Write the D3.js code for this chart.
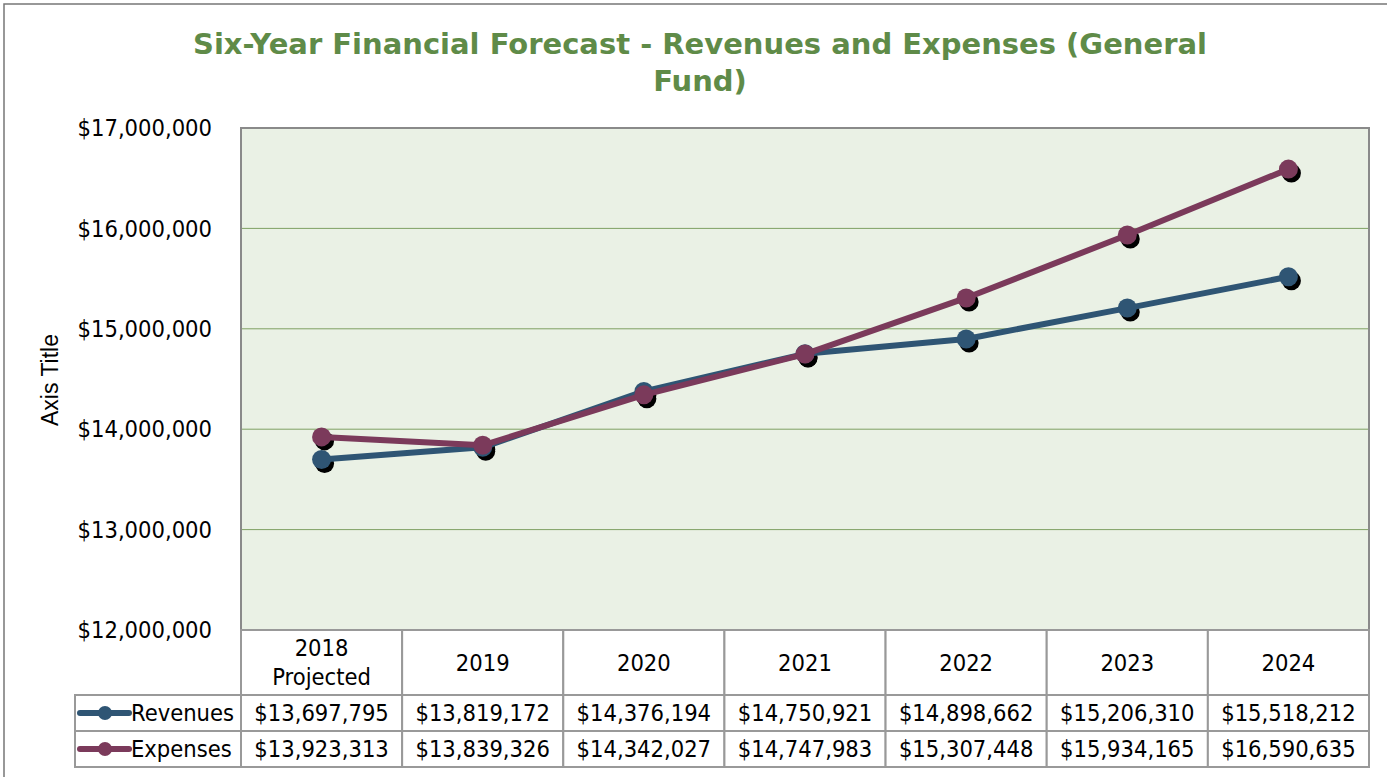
<!DOCTYPE html>
<html>
<head>
<meta charset="utf-8">
<script src="https://cdn.jsdelivr.net/npm/d3@7"></script>
<style>
  body { margin: 0; background: #fff; }
  text { font-family: "DejaVu Sans Condensed", "DejaVu Sans", sans-serif; fill: #000; }
</style>
</head>
<body>
<div id="chart"></div>
<script>
// chart data
var years = ['2018 Projected', '2019', '2020', '2021', '2022', '2023', '2024'];
var revenues = [13697795, 13819172, 14376194, 14750921, 14898662, 15206310, 15518212];
var expenses = [13923313, 13839326, 14342027, 14747983, 15307448, 15934165, 16590635];
var seriesNames = ['Revenues', 'Expenses'];
var seriesColors = ['#2f5574', '#7b3a5b'];
var yTicks = [12000000, 13000000, 14000000, 15000000, 16000000, 17000000];

var width = 1387, height = 777;
var plot = { left: 241, right: 1369, top: 128, bottom: 630 };
var rowH = [65, 36, 36];
var fs = '23.5px';

var svg = d3.select('#chart').append('svg')
  .attr('width', width)
  .attr('height', height);

// outer frame
svg.append('rect')
  .attr('x', 4).attr('y', 4)
  .attr('width', width + 10).attr('height', height + 10)
  .attr('fill', '#fff').attr('stroke', '#777').attr('stroke-width', 1.5);

// title
svg.append('text')
  .attr('x', 700).attr('y', 54)
  .attr('text-anchor', 'middle')
  .style('font-family', '"DejaVu Sans", sans-serif')
  .style('font-weight', 'bold').style('font-size', '29px')
  .style('fill', '#5f8b48')
  .text('Six-Year Financial Forecast - Revenues and Expenses (General');
svg.append('text')
  .attr('x', 700).attr('y', 91)
  .attr('text-anchor', 'middle')
  .style('font-family', '"DejaVu Sans", sans-serif')
  .style('font-weight', 'bold').style('font-size', '29px')
  .style('fill', '#5f8b48')
  .text('Fund)');

var x = d3.scaleBand().domain(years).range([plot.left, plot.right]);
var y = d3.scaleLinear().domain([12000000, 17000000]).range([plot.bottom, plot.top]);

// plot background
svg.append('rect')
  .attr('x', plot.left).attr('y', plot.top)
  .attr('width', plot.right - plot.left).attr('height', plot.bottom - plot.top)
  .attr('fill', '#eaf1e5');

// gridlines
svg.append('g').selectAll('line')
  .data(yTicks.slice(1, -1))
  .enter().append('line')
  .attr('x1', plot.left).attr('x2', plot.right)
  .attr('y1', function(d) { return y(d); })
  .attr('y2', function(d) { return y(d); })
  .attr('stroke', '#7fa063').attr('stroke-width', 1);

// y axis labels
var fmt = d3.format('$,');
svg.append('g').selectAll('text')
  .data(yTicks)
  .enter().append('text')
  .attr('x', 212)
  .attr('y', function(d) { return y(d); })
  .attr('dy', '0.35em')
  .attr('text-anchor', 'end')
  .style('font-size', fs)
  .text(function(d) { return fmt(d); });

svg.append('text')
  .attr('transform', 'translate(58,' + 380 + ') rotate(-90)')
  .attr('text-anchor', 'middle')
  .style('font-family', '"Liberation Sans", Arial, sans-serif')
  .style('font-size', '23px')
  .text('Axis Title');

// plot border
svg.append('rect')
  .attr('x', plot.left).attr('y', plot.top)
  .attr('width', plot.right - plot.left).attr('height', plot.bottom - plot.top)
  .attr('fill', 'none').attr('stroke', '#8a8a8a').attr('stroke-width', 2);

// lines and markers
var data = [revenues, expenses];
var line = d3.line()
  .x(function(d, i) { return x(years[i]) + x.bandwidth() / 2; })
  .y(function(d) { return y(d); });

data.forEach(function(vals, s) {
  var g = svg.append('g');
  // marker shadows
  g.selectAll('circle.shadow')
    .data(vals).enter().append('circle')
    .attr('cx', function(d, i) { return x(years[i]) + x.bandwidth() / 2 + 3; })
    .attr('cy', function(d) { return y(d) + 4; })
    .attr('r', 9.5)
    .attr('fill', '#000');
});
data.forEach(function(vals, s) {
  var g = svg.append('g');
  g.append('path')
    .datum(vals)
    .attr('d', line)
    .attr('fill', 'none')
    .attr('stroke', seriesColors[s])
    .attr('stroke-width', 6)
    .attr('stroke-linejoin', 'round');
  g.selectAll('circle.mark')
    .data(vals).enter().append('circle')
    .attr('cx', function(d, i) { return x(years[i]) + x.bandwidth() / 2; })
    .attr('cy', function(d) { return y(d); })
    .attr('r', 9.5)
    .attr('fill', seriesColors[s]);
});

// data table
var tableTop = plot.bottom;
var tableLeft = 75;
var gridColor = '#999';
var t = svg.append('g');

// header row cells
t.selectAll('rect.head')
  .data(years).enter().append('rect')
  .attr('x', function(d) { return x(d); })
  .attr('y', tableTop)
  .attr('width', x.bandwidth()).attr('height', rowH[0])
  .attr('fill', '#fff').attr('stroke', gridColor).attr('stroke-width', 2);

years.forEach(function(d) {
  var parts = d.split(' ');
  var cx = x(d) + x.bandwidth() / 2;
  if (parts.length > 1) {
    t.append('text').attr('x', cx).attr('y', tableTop + 26)
      .attr('text-anchor', 'middle').style('font-size', fs).text(parts[0]);
    t.append('text').attr('x', cx).attr('y', tableTop + 55)
      .attr('text-anchor', 'middle').style('font-size', fs).text(parts[1]);
  } else {
    t.append('text').attr('x', cx).attr('y', tableTop + rowH[0] / 2)
      .attr('dy', '0.35em')
      .attr('text-anchor', 'middle').style('font-size', fs).text(d);
  }
});

data.forEach(function(vals, s) {
  var ry = tableTop + rowH[0] + s * rowH[1];
  t.append('rect')
    .attr('x', tableLeft).attr('y', ry)
    .attr('width', plot.left - tableLeft).attr('height', rowH[1])
    .attr('fill', '#fff').attr('stroke', gridColor).attr('stroke-width', 2);
  t.selectAll(null)
    .data(vals).enter().append('rect')
    .attr('x', function(d, i) { return x(years[i]); })
    .attr('y', ry)
    .attr('width', x.bandwidth()).attr('height', rowH[1])
    .attr('fill', '#fff').attr('stroke', gridColor).attr('stroke-width', 2);
  t.selectAll(null)
    .data(vals).enter().append('text')
    .attr('x', function(d, i) { return x(years[i]) + x.bandwidth() / 2; })
    .attr('y', ry + rowH[1] / 2)
    .attr('dy', '0.35em')
    .attr('text-anchor', 'middle')
    .style('font-size', fs)
    .text(function(d) { return fmt(d); });
  // legend key
  var my = ry + rowH[1] / 2;
  t.append('line')
    .attr('x1', 80).attr('x2', 129).attr('y1', my).attr('y2', my)
    .attr('stroke', seriesColors[s]).attr('stroke-width', 6)
    .attr('stroke-linecap', 'round');
  t.append('circle').attr('cx', 105).attr('cy', my).attr('r', 7)
    .attr('fill', seriesColors[s]);
  t.append('text')
    .attr('x', 131).attr('y', my).attr('dy', '0.35em')
    .style('font-size', fs)
    .text(seriesNames[s]);
});
</script>
</body>
</html>
